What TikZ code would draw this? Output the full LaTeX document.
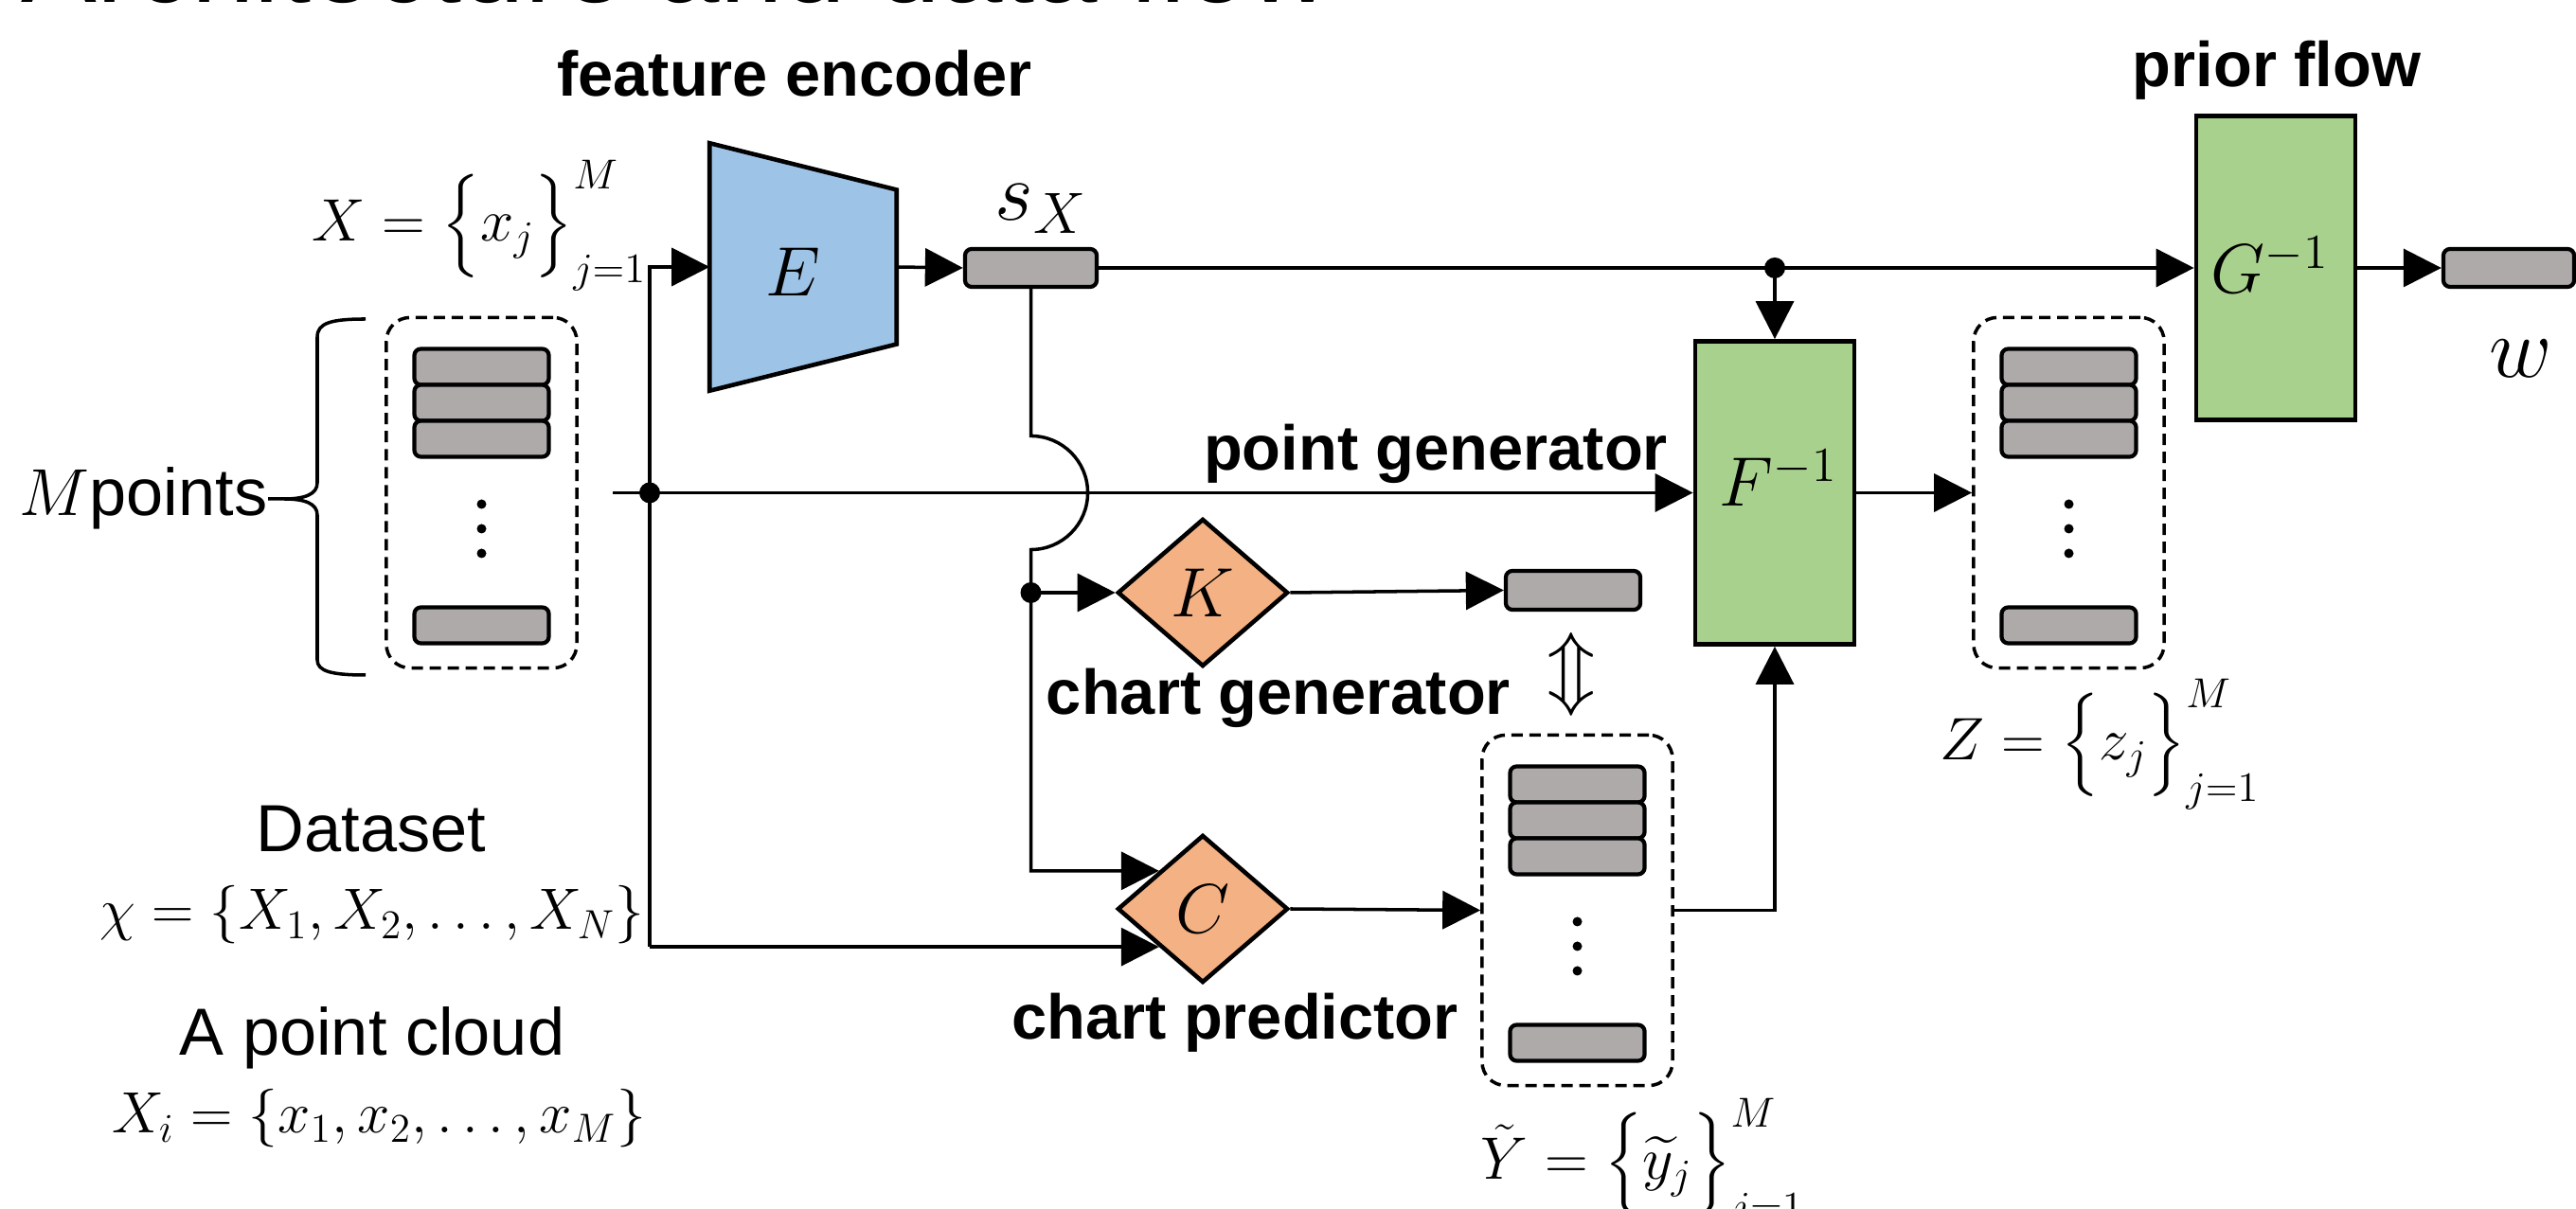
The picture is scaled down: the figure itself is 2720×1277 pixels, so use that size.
\RequirePackage{fix-cm}
\documentclass[tikz,border=0pt]{standalone}
\usepackage{exscale}
\usepackage[no-math]{fontspec}
\setmainfont{Liberation Sans}
\usetikzlibrary{arrows.meta,shapes.geometric,calc}
\definecolor{eblue}{HTML}{9DC3E6}
\definecolor{fgreen}{HTML}{A9D18E}
\definecolor{korange}{HTML}{F4B183}
\definecolor{bgray}{HTML}{AEAAAA}
\begin{document}
\begin{tikzpicture}[x=0.01cm, y=-0.01cm,
  arr/.style={-{Triangle[length=0.4cm,width=0.4cm]}, line width=1pt},
  box/.style={draw, line width=1.3pt, inner sep=0},
  bar/.style={draw, fill=bgray, rounded corners=0.07cm, line width=1.2pt, minimum width=1.42cm, minimum height=0.38cm, inner sep=0},
  dbox/.style={draw, dash pattern=on 0.12cm off 0.07cm, rounded corners=0.25cm, line width=1pt, minimum width=2.01cm, minimum height=3.7cm, inner sep=0},
  dot/.style={circle, fill, inner sep=0, minimum size=0.22cm},
  lab/.style={font=\fontsize{20}{24}\selectfont, inner sep=0},
  blab/.style={font=\fontsize{19}{23}\selectfont\bfseries, inner sep=0},
  mlab/.style={font=\fontsize{18}{22}\selectfont, inner sep=0},
  slab/.style={font=\fontsize{17.5}{21}\selectfont, inner sep=0},
  blk/.style={font=\fontsize{21}{25}\selectfont, inner sep=0},
  big/.style={font=\fontsize{25}{30}\selectfont, inner sep=0},
  stack/.pic={
    \node[dbox] (-box) at (0,0) {};
    \node[bar] (-b1) at (0,-133) {};
    \node[bar] (-b2) at (0,-95) {};
    \node[bar] (-b3) at (0,-57) {};
    \node[bar] (-b4) at (0,140) {};
    \fill (0,12) circle[radius=0.05cm] (0,38) circle[radius=0.05cm] (0,64) circle[radius=0.05cm];
  }
]
\useasboundingbox (0,0) rectangle (2720,1277);

% title (cut off at the top)
\node[font=\fontsize{34}{40}\selectfont, anchor=base west, inner sep=0] (title) at (22,3) {Architecture and data flow};

% section labels
\node[blab, anchor=base] (fe) at (839,102) {feature encoder};
\node[blab, anchor=base] (pf) at (2404,92) {prior flow};
\node[blab, anchor=base] (pg) at (1516,497) {point generator};
\node[blab, anchor=base] (cg) at (1350,755) {chart generator};
\node[blab, anchor=base] (cp) at (1304,1098) {chart predictor};

% left texts
\node[lab, anchor=base] (ds) at (392,900) {Dataset};
\node[slab, anchor=base] (chi) at (393,982) {$\chi = \{X_1, X_2, \ldots, X_N\}$};
\node[lab, anchor=base] (pc) at (393,1115) {A point cloud};
\node[slab, anchor=base] (xi) at (400,1197) {$X_i = \{x_1, x_2, \ldots, x_M\}$};
\node[mlab, anchor=base west] (Xset) at (329,255) {$X = \Bigl\{x_j\Bigr\}_{j=1}^{M}$};
\node[lab, anchor=base west] (mp) at (20,545) {$M$points};

% brace
\draw[line width=1pt] (386,337) .. controls (350,337) and (335,341) .. (335,356) -- (335,510)
  .. controls (335,522) and (322,527) .. (300,527) -- (283,527)
  (300,527) .. controls (322,527) and (335,532) .. (335,544) -- (335,697)
  .. controls (335,709) and (350,713) .. (386,713);

% stacks
\pic (L) at (508.5,520.5) {stack};
\pic (Z) at (2184.5,520.5) {stack};
\pic (Y) at (1665.5,961.5) {stack};

% encoder
\node[minimum width=1.96cm, minimum height=2.6cm, inner sep=0] (E) at (848,282) {};
\path[draw, fill=eblue, line width=1.3pt] (E.north west) -- ([yshift=0.815cm]E.east) -- ([yshift=-0.815cm]E.east) -- (E.south west) -- cycle;
\node[blk, anchor=base] (Elab) at (837,313) {$E$};

% flows
\node[box, fill=fgreen, minimum width=1.68cm, minimum height=3.2cm] (F) at (1874,520.5) {};
\node[blk, anchor=base] (Flab) at (1878,535) {$F^{-1}$};
\node[box, fill=fgreen, minimum width=1.68cm, minimum height=3.21cm] (G) at (2403,283) {};
\node[blk, anchor=base] (Glab) at (2397,310) {$G^{-1}$};

% diamonds
\node[diamond, draw, fill=korange, line width=1.3pt, minimum width=1.8cm, minimum height=1.56cm, inner sep=0, blk] (K) at (1270,626) {$K$};
\node[diamond, draw, fill=korange, line width=1.3pt, minimum width=1.8cm, minimum height=1.56cm, inner sep=0, blk] (C) at (1270,960) {$C$};

% small vectors
\node[bar, minimum width=1.39cm, minimum height=0.4cm] (sX) at (1088.5,283) {};
\node[big, anchor=base west] (sXlab) at (1050,233) {$s_X$};
\node[bar, minimum height=0.41cm] (kb) at (1661,623.5) {};
\node[bar, minimum width=1.38cm, minimum height=0.4cm] (wb) at (2649,283) {};
\node[font=\fontsize{26}{30}\selectfont, inner sep=0, anchor=base] (wlab) at (2662,399) {$w$};
\node[font=\fontsize{24}{28}\selectfont, inner sep=0] (ud) at (1659,712) {$\Updownarrow$};

% set labels
\node[mlab, anchor=base west] (Zset) at (2048,803) {$Z = \Bigl\{z_j\Bigr\}_{j=1}^{M}$};
\node[mlab, anchor=base west] (Yset) at (1563,1246) {$\tilde{Y} = \Bigl\{\widetilde{y}_j\Bigr\}_{j=1}^{M}$};

% helper coordinates
\coordinate (LX) at (686,0);
\coordinate (PG) at (647,0);
\coordinate (Cin1) at ($(C.west)!0.5!(C.north)$);
\coordinate (Cin2) at ($(C.west)!0.5!(C.south)$);
\coordinate (bump) at (sX.south |- F.west);

% connectors
\draw[arr] (Cin2 -| LX) |- (E.west);
\draw[arr] (Cin2 -| LX) -- (Cin2);
\draw[arr] (PG |- F.west) -- (F.west);
\draw[arr] (E.east) -- (sX.west);
\draw[arr] (sX.east) -- (G.west);
\draw[arr] (G.east) -- (wb.west);
\draw[arr] (sX.south) -- ([yshift=0.6cm]bump) arc[start angle=90, end angle=-90, radius=0.6cm] -- (sX.south |- Cin1) -- (Cin1);
\draw[arr] (sX.south |- K.west) -- (K.west);
\draw[arr] (K.east) -- (kb.west);
\draw[arr] (C.east) -- (Y-box.west);
\draw[arr] (Y-box.east) -| (F.south);
\draw[arr] (F.east) -- (Z-box.west);
\draw[arr] (F.north |- sX.east) -- (F.north);

% junction dots
\node[dot] (d1) at (LX |- F.west) {};
\node[dot] (d2) at (sX.south |- K.west) {};
\node[dot] (d3) at (F.north |- sX.east) {};
\end{tikzpicture}
\end{document}
